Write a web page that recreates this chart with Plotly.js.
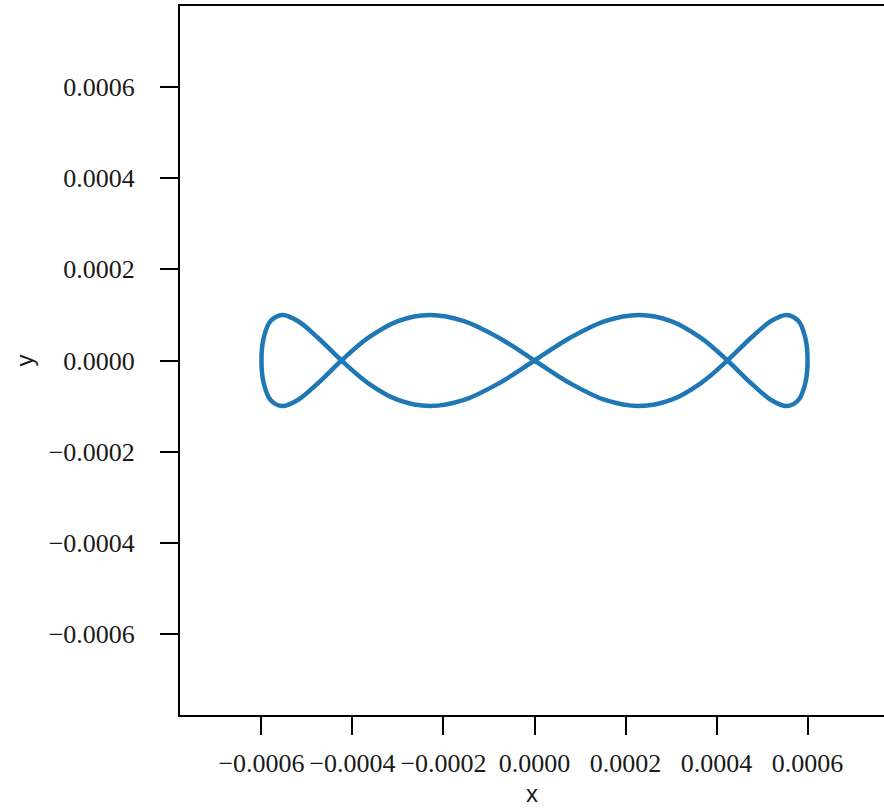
<!DOCTYPE html>
<html>
<head>
<meta charset="utf-8">
<script src="https://cdn.plot.ly/plotly-3.0.1.min.js"></script>
<style>html,body{margin:0;padding:0;background:#fff;}#chart{width:884px;height:811px;}</style>
</head>
<body>
<div id="chart"></div>
<script>
// Curve points (one closed loop)
var curveX = [0.0006, 0.000595, 0.000580, 0.000554, 0.000520, 0.000476, 0.000424, 0.000365, 0.000300, 0.000230, 0.000155, 0.0000783, 0,
  -0.0000783, -0.000155, -0.000230, -0.000300, -0.000365, -0.000424, -0.000476, -0.000520, -0.000554, -0.000580, -0.000595, -0.0006,
  -0.000595, -0.000580, -0.000554, -0.000520, -0.000476, -0.000424, -0.000365, -0.000300, -0.000230, -0.000155, -0.0000783, 0,
  0.0000783, 0.000155, 0.000230, 0.000300, 0.000365, 0.000424, 0.000476, 0.000520, 0.000554, 0.000580, 0.000595, 0.0006];
var curveY = [0, 0.00005, 0.0000866, 0.0001, 0.0000866, 0.00005, 0, -0.00005, -0.0000866, -0.0001, -0.0000866, -0.00005, 0,
  0.00005, 0.0000866, 0.0001, 0.0000866, 0.00005, 0, -0.00005, -0.0000866, -0.0001, -0.0000866, -0.00005, 0,
  0.00005, 0.0000866, 0.0001, 0.0000866, 0.00005, 0, -0.00005, -0.0000866, -0.0001, -0.0000866, -0.00005, 0,
  0.00005, 0.0000866, 0.0001, 0.0000866, 0.00005, 0, -0.00005, -0.0000866, -0.0001, -0.0000866, -0.00005, 0];

var tickVals = [-0.0006, -0.0004, -0.0002, 0, 0.0002, 0.0004, 0.0006];
var tickText = ["\u22120.0006", "\u22120.0004", "\u22120.0002", "0.0000", "0.0002", "0.0004", "0.0006"];
var xTitle = "x";
var yTitle = "y";

var font = {family: "Liberation Serif, DejaVu Serif, serif", size: 26, color: "#1a1a1a"};

var trace = {
  x: curveX, y: curveY, type: "scatter", mode: "lines",
  line: {color: "#1f77b4", width: 4.5, shape: "spline", smoothing: 1},
  hoverinfo: "skip"
};

var axisCommon = {
  showgrid: false, zeroline: false, showline: true, linecolor: "#000", linewidth: 2,
  ticks: "outside", ticklen: 18, tickwidth: 2, tickcolor: "#000",
  tickmode: "array", tickvals: tickVals, ticktext: tickText,
  tickfont: font
};

var layout = {
  width: 884, height: 811,
  margin: {l: 180, r: 0, t: 6, b: 96, pad: 0},
  paper_bgcolor: "#fff", plot_bgcolor: "#fff",
  showlegend: false,
  font: font,
  xaxis: Object.assign({}, axisCommon, {
    range: [-0.000779, 0.000768], mirror: true, ticklabelstandoff: 6,
    title: {text: xTitle, font: {family: "Liberation Sans, sans-serif", size: 24, color: "#1a1a1a"}, standoff: 8}
  }),
  yaxis: Object.assign({}, axisCommon, {
    range: [-0.000778, 0.000778], mirror: false, ticklabelstandoff: 20,
    title: {text: yTitle, font: {family: "Liberation Sans, sans-serif", size: 24, color: "#1a1a1a"}, standoff: 8}
  })
};

Plotly.newPlot("chart", [trace], layout, {staticPlot: true, displayModeBar: false});
</script>
</body>
</html>
